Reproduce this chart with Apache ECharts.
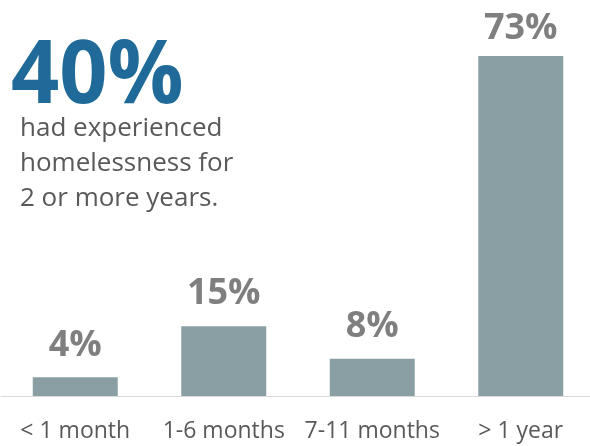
<!DOCTYPE html>
<html>
<head>
<meta charset="utf-8">
<script src="https://cdn.jsdelivr.net/npm/echarts@6/dist/echarts.min.js"></script>
<style>html,body{margin:0;padding:0;background:#fff;overflow:hidden}#c{width:600px;height:446px}</style>
</head>
<body>
<div id="c"></div>
<script>
var categories = ["< 1 month", "1-6 months", "7-11 months", "> 1 year"];
var values = [4, 15, 8, 73];
var headline = "40%";
var subtext = ["had experienced", "homelessness for", "2 or more years."];

var chart = echarts.init(document.getElementById('c'));
chart.setOption({
  animation: false,
  backgroundColor: '#ffffff',
  grid: {left: 1, width: 594, top: 56, bottom: 50, containLabel: false},
  xAxis: {
    type: 'category',
    data: categories,
    axisLine: {lineStyle: {color: '#d9d9d9', width: 1}},
    axisTick: {show: false},
    axisLabel: {interval: 0, hideOverlap: false, color: '#595959', fontFamily: 'Open Sans', fontSize: 23, margin: 24}
  },
  yAxis: {type: 'value', min: 0, max: 73, show: false, splitLine: {show: false}},
  series: [{
    type: 'bar',
    data: values.map(function (v, i) { return i === 3 ? {value: v, label: {offset: [0, 5]}} : v; }),
    barWidth: 85,
    itemStyle: {color: '#8a9fa4'},
    label: {
      show: true, position: 'top', distance: 14,
      formatter: '{c}%',
      color: '#7f7f7f', fontFamily: 'Open Sans', fontWeight: 'bold', fontSize: 36
    }
  }],
  graphic: [
    {type: 'text', left: 11, top: 34, scaleX: 0.96, style: {text: headline, fill: '#1f6a99', font: 'bold 88px "Open Sans"'}},
    {type: 'text', left: 20, top: 111, style: {text: subtext.join('\n'), fill: '#595959', font: '26px "Open Sans"', lineHeight: 35}}
  ]
});
</script>
</body>
</html>
